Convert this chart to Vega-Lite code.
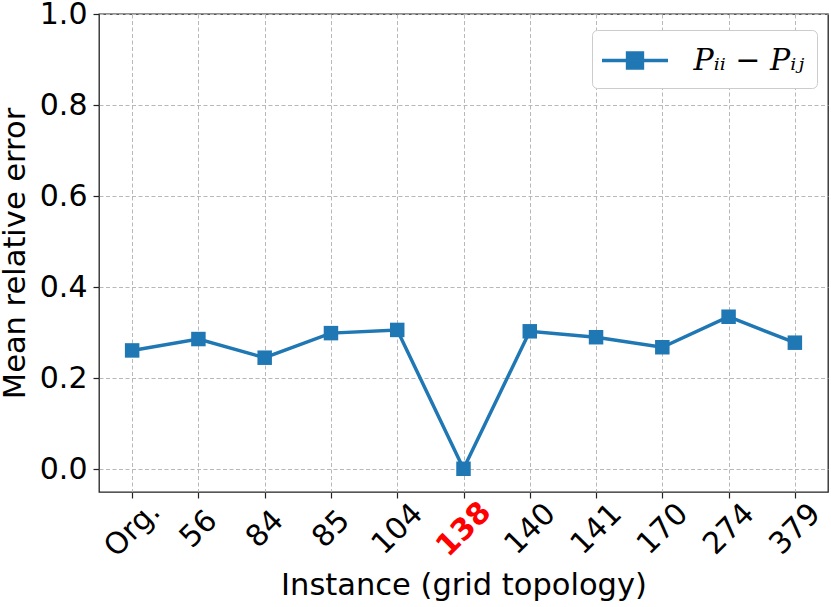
{
  "$schema": "https://vega.github.io/schema/vega-lite/v6.json",
  "width": 729,
  "height": 478,
  "autosize": {"type": "none"},
  "padding": {"left": 99, "top": 14, "right": 3, "bottom": 115},
  "background": "white",
  "config": {
    "font": "DejaVu Sans",
    "view": {"stroke": "#222222", "strokeWidth": 1.3},
    "axis": {
      "labelFont": "DejaVu Sans",
      "labelFontSize": 30,
      "labelColor": "black",
      "titleFont": "DejaVu Sans",
      "titleFontSize": 30.5,
      "titleFontWeight": "normal",
      "titleColor": "black",
      "domain": false,
      "tickColor": "#222222",
      "tickSize": 6,
      "tickWidth": 1.2,
      "grid": true,
      "gridColor": "#b8b8b8",
      "gridDash": [4, 2.5],
      "gridWidth": 1
    }
  },
  "data": {
    "values": [
      {"instance": "Org.", "error": 0.261, "series": "Pᵢᵢ − Pᵢⱼ"},
      {"instance": "56", "error": 0.286, "series": "Pᵢᵢ − Pᵢⱼ"},
      {"instance": "84", "error": 0.245, "series": "Pᵢᵢ − Pᵢⱼ"},
      {"instance": "85", "error": 0.299, "series": "Pᵢᵢ − Pᵢⱼ"},
      {"instance": "104", "error": 0.306, "series": "Pᵢᵢ − Pᵢⱼ"},
      {"instance": "138", "error": 0.001, "series": "Pᵢᵢ − Pᵢⱼ"},
      {"instance": "140", "error": 0.303, "series": "Pᵢᵢ − Pᵢⱼ"},
      {"instance": "141", "error": 0.290, "series": "Pᵢᵢ − Pᵢⱼ"},
      {"instance": "170", "error": 0.268, "series": "Pᵢᵢ − Pᵢⱼ"},
      {"instance": "274", "error": 0.335, "series": "Pᵢᵢ − Pᵢⱼ"},
      {"instance": "379", "error": 0.278, "series": "Pᵢᵢ − Pᵢⱼ"}
    ]
  },
  "mark": {
    "type": "line",
    "strokeWidth": 3.5,
    "point": {"shape": "square", "size": 210, "filled": true, "opacity": 1}
  },
  "encoding": {
    "x": {
      "field": "instance",
      "type": "ordinal",
      "sort": null,
      "scale": {"type": "point", "padding": 0.5},
      "axis": {
        "title": "Instance (grid topology)",
        "labelAngle": -45,
        "labelAlign": "center",
        "labelBaseline": "middle",
        "labelPadding": 31,
        "labelOverlap": false,
        "titlePadding": 8,
        "labelColor": {"condition": {"test": "datum.value === '138'", "value": "#ff0000"}, "value": "black"},
        "labelFontWeight": {"condition": {"test": "datum.value === '138'", "value": "bold"}, "value": "normal"}
      }
    },
    "y": {
      "field": "error",
      "type": "quantitative",
      "scale": {"domain": [-0.05, 1.0], "nice": false, "zero": false},
      "axis": {
        "title": "Mean relative error",
        "values": [0, 0.2, 0.4, 0.6, 0.8, 1.0],
        "format": ".1f",
        "labelPadding": 6,
        "titlePadding": 9
      }
    },
    "color": {
      "field": "series",
      "type": "nominal",
      "scale": {"range": ["#1f77b4"]},
      "legend": {
        "title": null,
        "orient": "none",
        "legendX": 493,
        "legendY": 16,
        "padding": 12,
        "strokeColor": "#cccccc",
        "fillColor": "white",
        "cornerRadius": 5,
        "symbolType": "M-2,0H2M-0.45,-0.45H0.45V0.45H-0.45Z",
        "symbolSize": 1089,
        "symbolOffset": 12.5,
        "symbolStrokeWidth": 3.5,
        "symbolFillColor": "#1f77b4",
        "symbolStrokeColor": "#1f77b4",
        "labelFont": "DejaVu Serif",
        "labelFontStyle": "italic",
        "labelFontSize": 30,
        "labelColor": "black",
        "labelOffset": 40,
        "labelLimit": 300
      }
    }
  }
}
